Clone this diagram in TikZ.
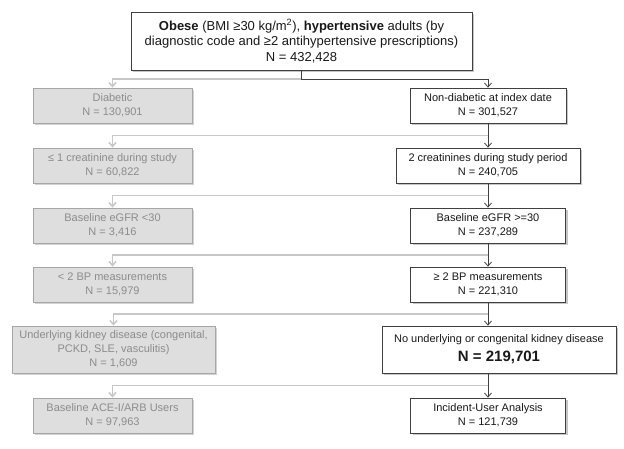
\documentclass[tikz,border=0pt]{standalone}
\usepackage{fontspec}
\setmainfont{Liberation Sans}
\usepackage{tikz}
\usetikzlibrary{positioning,arrows.meta,calc,shadows}

\begin{document}
\begin{tikzpicture}[x=1pt,y=-1pt,>={Straight Barb[length=4pt,width=7pt]},
	included/.style={draw=black!75,fill=white,line width=0.8pt,
		align=center,inner sep=0pt,minimum height=35pt,
		font=\fontsize{11}{14}\selectfont,text=black!90,
		drop shadow={shadow xshift=2pt,shadow yshift=-2pt,fill=black!50,opacity=0.45}},
	excluded/.style={draw=black!35,fill=black!13,line width=0.8pt,
		align=center,inner sep=0pt,minimum height=35pt,
		font=\fontsize{11}{14}\selectfont,text=black!45,
		drop shadow={shadow xshift=2pt,shadow yshift=-2pt,fill=black!50,opacity=0.35}},
	mainline/.style={draw=black!75,line width=0.8pt,->},
	sideline/.style={draw=black!22,line width=1.5pt,->}]
	\useasboundingbox (0,0) rectangle (624,448);

	\node[included,minimum width=341pt,minimum height=58pt,
		  font=\fontsize{13}{15.5}\selectfont]
		  (Top) at (301.5,41)
		  {\textbf{Obese} (BMI ≥30 kg/m\textsuperscript{2}), \textbf{hypertensive} adults (by\\
		   diagnostic code and ≥2 antihypertensive prescriptions)\\ N = 432,428};

	\node[excluded,minimum width=159pt] (L1) at (112.5,105.5) {Diabetic\\N = 130,901};
	\node[included,minimum width=156pt] (R1) at (488,105.5) {Non-diabetic at index date\\N = 301,527};
	\node[excluded,minimum width=159pt] (L2) at (112.5,165.5) {≤ 1 creatinine during study\\N = 60,822};
	\node[included,minimum width=184pt] (R2) at (488,165.5) {2 creatinines during study period\\N = 240,705};
	\node[excluded,minimum width=159pt] (L3) at (112.5,225.5) {Baseline eGFR <30\\N = 3,416};
	\node[included,minimum width=155pt] (R3) at (488,225.5) {Baseline eGFR >=30\\N = 237,289};
	\node[excluded,minimum width=159pt] (L4) at (112.5,284.5) {< 2 BP measurements\\N = 15,979};
	\node[included,minimum width=155pt] (R4) at (488,284.5) {≥ 2 BP measurements\\N = 221,310};
	\node[excluded,minimum width=203pt,minimum height=47pt] 
		  (L5) at (113.5,349.5) {Underlying kidney disease (congenital,\\PCKD, SLE, vasculitis)\\N = 1,609};
	\node[included,minimum width=234pt,minimum height=47pt] 
		  (R5) at (499,349.5) {No underlying or congenital kidney disease\\[5pt]
		  {\fontsize{15}{18}\selectfont\bfseries N = 219,701}};
	\node[excluded,minimum width=159pt] (L6) at (112.5,415.5) {Baseline ACE-I/ARB Users\\N = 97,963};
	\node[included,minimum width=155pt] (R6) at (488,415.5) {Incident-User Analysis\\N = 121,739};

	\coordinate (S0) at ($(Top.south)!0.5!(Top.south |- R1.north)$);
	\coordinate (S1) at ($(R1.south)!0.5!(R1.south |- R2.north)$);
	\coordinate (S2) at ($(R2.south)!0.5!(R2.south |- R3.north)$);
	\coordinate (S3) at ($(R3.south)!0.5!(R3.south |- R4.north)$);
	\coordinate (S4) at ($(R4.south)!0.5!(R4.south |- R5.north)$);
	\coordinate (S5) at ($(R4.south |- R5.south)!0.5!(R4.south |- R6.north)$);

	\draw[sideline] (S0) -| (L1.north);
	\draw[sideline] (S1) -| (L2.north);
	\draw[sideline] (S2) -| (L3.north);
	\draw[sideline] (S3) -| (L4.north);
	\draw[sideline] (S4) -| (L5.north);
	\draw[sideline] (S5) -| (L6.north);

	\draw[mainline] (Top.south) -- (S0) -| (R1.north);
	\draw[mainline] (R1.south) -- (R2.north);
	\draw[mainline] (R2.south) -- (R3.north);
	\draw[mainline] (R3.south) -- (R4.north);
	\draw[mainline] (R4.south) -- (R4.south |- R5.north);
	\draw[mainline] (R4.south |- R5.south) -- (R6.north);
\end{tikzpicture}
\end{document}
